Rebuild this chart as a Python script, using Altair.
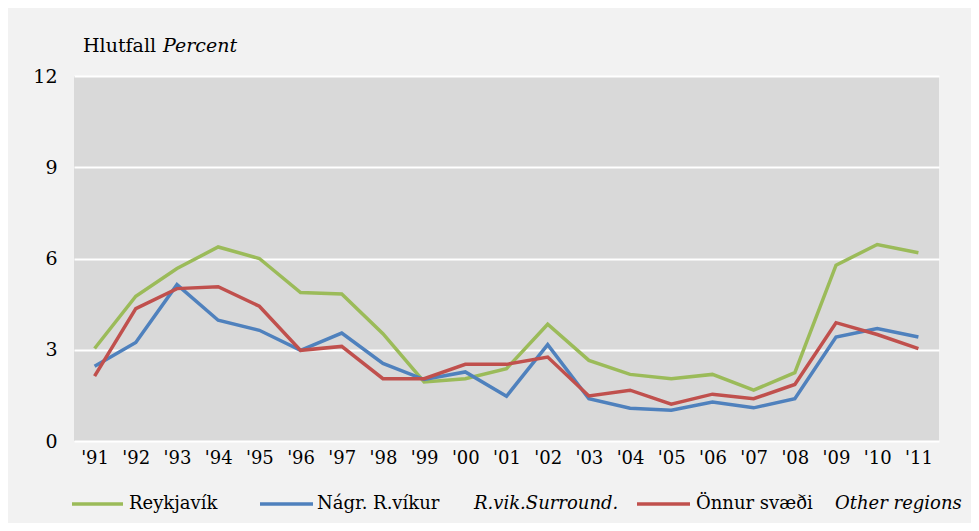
import altair as alt
import pandas as pd

years = ["'91", "'92", "'93", "'94", "'95", "'96", "'97", "'98", "'99", "'00", "'01",
         "'02", "'03", "'04", "'05", "'06", "'07", "'08", "'09", "'10", "'11"]
reykjavik = [3.04, 4.76, 5.67, 6.38, 6.00, 4.88, 4.83, 3.53, 1.94, 2.05, 2.38,
             3.84, 2.65, 2.19, 2.05, 2.19, 1.67, 2.25, 5.78, 6.46, 6.19]
nagr = [2.46, 3.24, 5.14, 3.97, 3.64, 2.98, 3.55, 2.55, 2.02, 2.27, 1.47,
        3.17, 1.39, 1.08, 1.01, 1.28, 1.09, 1.39, 3.42, 3.70, 3.42]
onnur = [2.13, 4.35, 5.01, 5.07, 4.43, 2.98, 3.11, 2.05, 2.05, 2.52, 2.52,
         2.76, 1.48, 1.67, 1.21, 1.54, 1.39, 1.86, 3.89, 3.50, 3.04]
y_ticks = [0, 3, 6, 9, 12]

series_names = ["Reykjavík", "Nágr. R.víkur", "Önnur svæði"]
series_en = ["", "R.vik.Surround.", "Other regions"]
colors = ["#9bbb59", "#4f81bd", "#c0504d"]

FONT = "DejaVu Serif"

x_enc = alt.X("year:O", sort=years,
              scale=alt.Scale(type="point", padding=0.5, domain=years),
              axis=alt.Axis(title=None, labelAngle=0, ticks=False, domain=False, grid=False,
                            labelFontSize=18, labelPadding=8, labelFont=FONT, labelColor="black"))
y_enc = alt.Y("value:Q",
              scale=alt.Scale(domain=[0, 12], nice=False),
              axis=alt.Axis(title=None, values=y_ticks, ticks=False, domain=False, grid=True,
                            gridColor="white", gridWidth=2, labelFontSize=19, labelPadding=17,
                            labelFont=FONT, labelColor="black"))

layers = []
for name, vals, col in zip(series_names, [reykjavik, nagr, onnur], colors):
    df = pd.DataFrame({"year": years, "value": vals})
    layers.append(
        alt.Chart(df).mark_line(color=col, strokeWidth=3.5, strokeJoin="miter").encode(x=x_enc, y=y_enc)
    )

one = pd.DataFrame({"k": [0]})

# Title
layers.append(alt.Chart(one).mark_text(align="left", baseline="alphabetic", font=FONT, fontSize=19,
                                       color="black").encode(
    x=alt.value(9), y=alt.value(-24), text=alt.value("Hlutfall")))
layers.append(alt.Chart(one).mark_text(align="left", baseline="alphabetic", font=FONT, fontSize=19,
                                       fontStyle="italic", color="black").encode(
    x=alt.value(89), y=alt.value(-24), text=alt.value("Percent")))

# Legend
leg_y = 428
line_x = [(-2, 49), (186, 239), (563, 616)]
text_x = [55, 243, 622]
en_x = [None, 400, 761]
for i in range(3):
    layers.append(alt.Chart(one).mark_rule(color=colors[i], strokeWidth=3.5).encode(
        x=alt.value(line_x[i][0]), x2=alt.value(line_x[i][1]), y=alt.value(leg_y)))
    layers.append(alt.Chart(one).mark_text(align="left", baseline="middle", font=FONT, fontSize=18,
                                           color="black").encode(
        x=alt.value(text_x[i]), y=alt.value(leg_y), text=alt.value(series_names[i])))
    if series_en[i]:
        layers.append(alt.Chart(one).mark_text(align="left", baseline="middle", font=FONT, fontSize=18,
                                               fontStyle="italic", color="black").encode(
            x=alt.value(en_x[i]), y=alt.value(leg_y), text=alt.value(series_en[i])))

chart = alt.layer(*layers).properties(
    width=865, height=365,
    background="#f2f2f2",
    padding={"left": 66, "top": 68, "right": 32, "bottom": 82},
    autosize=alt.AutoSizeParams(type="none"),
).configure_view(fill="#d9d9d9", stroke=None)

chart.save("out.html", embed_options={"renderer": "svg", "actions": False})
